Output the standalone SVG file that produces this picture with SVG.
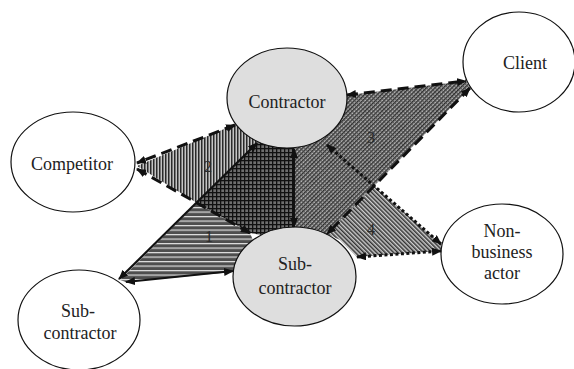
<svg xmlns="http://www.w3.org/2000/svg" width="574" height="369" viewBox="0 0 574 369">
<style>
.node{stroke:#111;stroke-width:1.2}
.white{fill:#fff}
.grey{fill:#dedede}
.lbl{font-family:"Liberation Serif","Times New Roman",serif;font-size:18px;fill:#222;text-anchor:middle}
.num{font-family:"Liberation Serif","Times New Roman",serif;font-size:16px;fill:#2a2a2a;text-anchor:middle}
.solid{stroke:#111;stroke-width:2.2;fill:none;marker-start:url(#ah);marker-end:url(#ah)}
.dash{stroke:#111;stroke-width:3;fill:none;stroke-dasharray:11 6;marker-start:url(#ah);marker-end:url(#ah)}
.dot{stroke:#111;stroke-width:3;fill:none;stroke-dasharray:3 2.5;marker-start:url(#ah);marker-end:url(#ah)}
</style>
<defs>
<marker id="ah" viewBox="0 0 10 8" refX="9" refY="4" markerWidth="10" markerHeight="8" markerUnits="userSpaceOnUse" orient="auto-start-reverse">
<path d="M0,0 L10,4 L0,8 z" fill="#111"/>
</marker>
<pattern id="pv" width="3" height="10" patternUnits="userSpaceOnUse">
<rect width="3" height="10" fill="#c4c4c4"/><rect width="1.5" height="10" fill="#2a2a2a"/>
</pattern>
<pattern id="ph" width="10" height="4.5" patternUnits="userSpaceOnUse">
<rect width="10" height="4.5" fill="#4e4e4e"/><rect width="10" height="1.2" fill="#e0e0e0"/>
</pattern>
<pattern id="pc" width="4" height="4" patternUnits="userSpaceOnUse">
<rect width="4" height="4" fill="#6e6e6e"/><rect width="4" height="1.3" fill="#111"/><rect width="1.3" height="4" fill="#111"/>
</pattern>
<pattern id="pd" width="3" height="3" patternUnits="userSpaceOnUse" patternTransform="rotate(45)">
<rect width="3" height="3" fill="#b4b4b4"/><rect width="1.4" height="3" fill="#2a2a2a"/><rect width="3" height="0.8" fill="#4a4a4a"/>
</pattern>
<pattern id="pe" width="3" height="10" patternUnits="userSpaceOnUse" patternTransform="rotate(-45)">
<rect width="3" height="10" fill="#cdcdcd"/><rect width="1.5" height="10" fill="#333"/>
</pattern>
</defs>

<g id="regions">
<polygon points="137,166 236,124 259,141 197,203" fill="url(#pv)"/>
<polygon points="197,203 259,141 280,135 294,140 294,240 250,233" fill="url(#pc)"/>
<polygon points="120,280 197,203 250,233 262,262 233,272 126,282" fill="url(#ph)"/>
<polygon points="294,140 340,100 348,95 466,81 470,88 327,234 300,245 294,245" fill="url(#pd)"/>
<polygon points="374,186 441,244 441,251 357,257 340,240 327,234" fill="url(#pe)"/>
<text class="num" x="208" y="172">2</text>
<text class="num" x="209" y="242">1</text>
<text class="num" x="371" y="143">3</text>
<text class="num" x="371" y="235">4</text>
</g>

<g id="contractor">
<ellipse class="node grey" cx="287" cy="98" rx="60" ry="50"/>
<text class="lbl" x="287" y="108">Contractor</text>
</g>
<g id="client">
<ellipse class="node white" cx="519" cy="62" rx="56" ry="50"/>
<text class="lbl" x="525" y="69">Client</text>
</g>
<g id="competitor">
<ellipse class="node white" cx="73" cy="162" rx="62" ry="50"/>
<text class="lbl" x="72" y="170">Competitor</text>
</g>
<g id="subcontractor-main">
<ellipse class="node grey" cx="294.5" cy="276.5" rx="61.5" ry="49.5"/>
<text class="lbl" x="295" y="270">Sub-</text>
<text class="lbl" x="295" y="294">contractor</text>
</g>
<g id="subcontractor-other">
<ellipse class="node white" cx="79" cy="320" rx="61" ry="50"/>
<text class="lbl" x="78" y="317">Sub-</text>
<text class="lbl" x="80" y="339">contractor</text>
</g>
<g id="nonbusiness">
<ellipse class="node white" cx="502" cy="254" rx="61" ry="50"/>
<text class="lbl" x="502" y="237">Non-</text>
<text class="lbl" x="502" y="258">business</text>
<text class="lbl" x="502" y="279">actor</text>
</g>

<g id="connectors">
<line class="dash" x1="235" y1="125" x2="137" y2="163"/>
<line class="dash" x1="137" y1="169" x2="250" y2="233"/>
<line class="solid" x1="119" y1="279" x2="257" y2="143"/>
<line class="solid" x1="126" y1="282" x2="233" y2="271"/>
<line class="solid" x1="294" y1="149" x2="294" y2="227"/>
<line class="dash" x1="347" y1="95" x2="466" y2="81"/>
<line class="dash" x1="470" y1="88" x2="327" y2="234"/>
<line class="dot" x1="327" y1="145" x2="441" y2="244"/>
<line class="dot" x1="357" y1="257" x2="441" y2="251"/>
</g>
</svg>
